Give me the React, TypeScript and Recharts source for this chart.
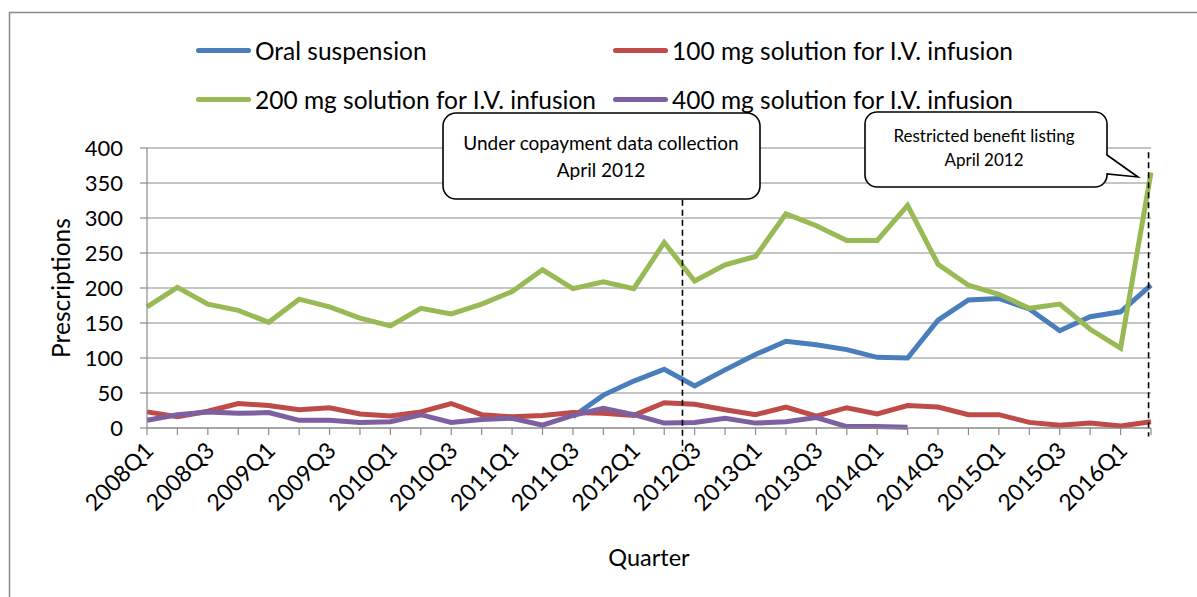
import React from 'react';
import { LineChart, Line, XAxis, YAxis, CartesianGrid, ReferenceLine, Legend } from 'recharts';

const QUARTERS = [
  '2008Q1', '2008Q2', '2008Q3', '2008Q4',
  '2009Q1', '2009Q2', '2009Q3', '2009Q4',
  '2010Q1', '2010Q2', '2010Q3', '2010Q4',
  '2011Q1', '2011Q2', '2011Q3', '2011Q4',
  '2012Q1', '2012Q2', '2012Q3', '2012Q4',
  '2013Q1', '2013Q2', '2013Q3', '2013Q4',
  '2014Q1', '2014Q2', '2014Q3', '2014Q4',
  '2015Q1', '2015Q2', '2015Q3', '2015Q4',
  '2016Q1', '2016Q2',
];

const ORAL = [
  null, null, null, null, null, null, null, null, null, null, null, null, null, null,
  16, 47, 67, 84, 60, 83, 105, 124, 119, 112, 101, 100, 154, 183, 185, 170, 139, 159, 166, 204,
];
const IV100 = [
  23, 16, 24, 35, 32, 26, 29, 20, 17, 23, 35, 19, 16, 18, 22, 21, 18,
  36, 34, 26, 19, 30, 17, 29, 20, 32, 30, 19, 19, 8, 4, 7, 3, 9,
];
const IV200 = [
  173, 201, 177, 168, 151, 184, 173, 157, 146, 171, 163, 177, 195, 226, 199, 209, 199,
  265, 210, 233, 245, 306, 289, 268, 268, 318, 234, 204, 191, 171, 177, 141, 114, 365,
];
const IV400 = [
  11, 19, 23, 21, 22, 11, 11, 8, 9, 19, 8, 12, 14, 4, 18, 28, 19,
  7, 8, 14, 7, 9, 15, 2, 2, 1, null, null, null, null, null, null, null, null,
];

const Y_TICKS = [0, 50, 100, 150, 200, 250, 300, 350, 400];

const SERIES = [
  { key: 'oral', name: 'Oral suspension', color: '#4A7EBB' },
  { key: 'iv100', name: '100 mg solution for I.V. infusion', color: '#BE4B48' },
  { key: 'iv200', name: '200 mg solution for I.V. infusion', color: '#98B954' },
  { key: 'iv400', name: '400 mg solution for I.V. infusion', color: '#7D60A0' },
];

const data = QUARTERS.map((q, i) => ({
  i,
  q,
  oral: ORAL[i],
  iv100: IV100[i],
  iv200: IV200[i],
  iv400: IV400[i],
}));

const FONT = 'Lato, "Open Sans", sans-serif';
const GREY = '#8a8a8a';

// legend grid slots (2 x 2, like the Excel legend)
const LEGEND_COLS = [196, 613];
const LEGEND_ROWS = [50, 99];

const renderLegend = (props: any) => {
  const items = props.payload || [];
  const ordered = SERIES.map((s) => items.find((it: any) => it.dataKey === s.key)).filter(Boolean);
  return (
    <div style={{ position: 'relative', width: 1197, height: 120 }}>
      {ordered.map((it: any, idx: number) => (
        <div
          key={it.value}
          style={{
            position: 'absolute',
            left: LEGEND_COLS[idx % 2],
            top: LEGEND_ROWS[Math.floor(idx / 2)] - 16,
            height: 32,
            display: 'flex',
            alignItems: 'center',
            whiteSpace: 'nowrap',
          }}
        >
          <span style={{ display: 'inline-block', width: 55, height: 5, borderRadius: 3, background: it.color, marginRight: 4 }} />
          <span style={{ fontSize: 24.5, color: '#000', fontFamily: FONT }}>{it.value}</span>
        </div>
      ))}
    </div>
  );
};

const QuarterTick = (props: any) => {
  const { x, y, payload } = props;
  const i = payload.value;
  if (i % 2 !== 0) return null;
  return (
    <g transform={`translate(${x + 8},${y + 13}) rotate(-45)`}>
      <text x={0} y={0} textAnchor="end" fontSize={23} fill="#000" fontFamily={FONT}>
        {QUARTERS[i]}
      </text>
    </g>
  );
};

const App: React.FC = () => {
  return (
    <div style={{ position: 'absolute', left: 0, top: 0, width: 1197, height: 597, background: '#fff', fontFamily: FONT }}>
      <LineChart width={1197} height={597} data={data} margin={{ top: 148, right: 46, bottom: 20, left: 87 }}>
        <CartesianGrid horizontal vertical={false} stroke={GREY} strokeWidth={1.2} />
        <XAxis
          dataKey="i"
          type="number"
          domain={[0, QUARTERS.length - 1]}
          ticks={QUARTERS.map((_, i) => i)}
          interval={0}
          height={149}
          tick={<QuarterTick />}
          tickSize={7}
          tickMargin={4}
          axisLine={{ stroke: GREY, strokeWidth: 1.2 }}
          tickLine={{ stroke: GREY, strokeWidth: 1.2 }}
          label={{ value: 'Quarter', position: 'insideBottom', offset: 11, fontSize: 23.5, fill: '#000', fontFamily: FONT }}
        />
        <YAxis
          domain={[0, 400]}
          ticks={Y_TICKS}
          width={60}
          tickSize={7}
          tickMargin={17}
          tick={{ fontSize: 22, fill: '#000', fontFamily: FONT }}
          axisLine={{ stroke: GREY, strokeWidth: 1.2 }}
          tickLine={{ stroke: GREY, strokeWidth: 1.2 }}
          label={{
            content: () => (
              <text x={60} y={288} transform="rotate(-90 60 288)" textAnchor="middle" dominantBaseline="central" fontSize={24.5} fill="#000" fontFamily={FONT}>
                Prescriptions
              </text>
            ),
          }}
        />
        <Legend layout="horizontal" verticalAlign="middle" align="center" wrapperStyle={{ top: 0, left: 0, width: 1197 }} content={renderLegend} />
        {SERIES.map((s) => (
          <Line
            key={s.key}
            dataKey={s.key}
            name={s.name}
            stroke={s.color}
            strokeWidth={5}
            dot={false}
            activeDot={false}
            type="linear"
            isAnimationActive={false}
          />
        ))}
        <ReferenceLine
          segment={[{ x: 17.6, y: 326 }, { x: 17.6, y: -34 }]}
          stroke="#000"
          strokeWidth={1.6}
          strokeDasharray="6 4"
          ifOverflow="visible"
        />
        <ReferenceLine
          segment={[{ x: 32.92, y: 394 }, { x: 32.92, y: -12 }]}
          stroke="#000"
          strokeWidth={1.6}
          strokeDasharray="6 4"
          ifOverflow="visible"
        />
      </LineChart>
      <svg width={1197} height={597} style={{ position: 'absolute', left: 0, top: 0, pointerEvents: 'none' }}>
        <rect x={9.5} y={12.5} width={1400} height={800} fill="none" stroke={GREY} strokeWidth={1.5} />
        <rect x={443} y={113} width={317} height={86} rx={13} ry={13} fill="#fff" stroke="#000" strokeWidth={1.6} />
        <text x={601} y={150} textAnchor="middle" fontSize={19} fill="#000" fontFamily={FONT}>Under copayment data collection</text>
        <text x={601} y={177} textAnchor="middle" fontSize={19} fill="#000" fontFamily={FONT}>April 2012</text>
        <path
          d="M877,112 L1095,112 A12,12 0 0 1 1107,124 L1107,155 L1138,177 L1107,174 L1107,175 A12,12 0 0 1 1095,187 L877,187 A12,12 0 0 1 865,175 L865,124 A12,12 0 0 1 877,112 Z"
          fill="#fff"
          stroke="#000"
          strokeWidth={1.6}
        />
        <text x={984} y={142} textAnchor="middle" fontSize={17} fill="#000" fontFamily={FONT}>Restricted benefit listing</text>
        <text x={984} y={166} textAnchor="middle" fontSize={17} fill="#000" fontFamily={FONT}>April 2012</text>
      </svg>
    </div>
  );
};

export default App;
